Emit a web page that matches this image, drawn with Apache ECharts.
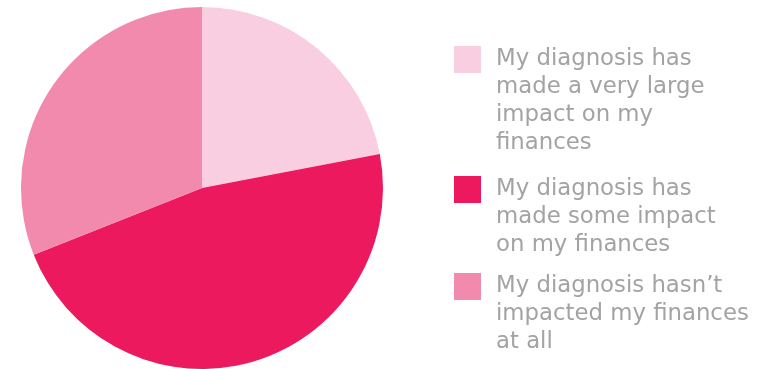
<!DOCTYPE html>
<html><head><meta charset="utf-8">
<script src="https://cdn.jsdelivr.net/npm/echarts@6/dist/echarts.min.js"></script>
<style>html,body{margin:0;padding:0;background:#fff}#c{width:761px;height:369px}</style>
</head><body><div id="c"></div>
<script>
const categories = [
  "My diagnosis has\nmade a very large\nimpact on my\nfinances",
  "My diagnosis has\nmade some impact\non my finances",
  "My diagnosis hasn\u2019t\nimpacted my finances\nat all"
];
const values = [22, 47, 31];
const colors = ["#F8CEE0", "#EC195E", "#F28AAD"];

const LH = 28, IS = 27, BOXW = 47;
const legendTops = [46, 176, 273];
const font = "DejaVu Sans";
const legends = categories.map((name, i) => {
  const n = name.split("\n").length;
  const offset = (2 * n - 1) * LH / 2 - IS / 2;
  return {
    show: true,
    orient: "vertical",
    left: 454,
    top: legendTops[i] - offset,
    padding: 0,
    itemWidth: BOXW,
    itemHeight: IS,
    itemGap: 0,
    icon: "path://M0,0h10v10h-10z",
    symbolKeepAspect: true,
    selectedMode: false,
    formatter: function (nm) { return "\n".repeat(nm.split("\n").length - 1) + nm; },
    data: [{ name: name, itemStyle: { color: colors[i] } }],
    textStyle: { color: "#A3A3A3", fontSize: 22.8, lineHeight: LH, fontFamily: font }
  };
});

const chart = echarts.init(document.getElementById("c"), null, { renderer: "canvas" });
chart.setOption({
  animation: false,
  legend: legends,
  series: [{
    type: "pie",
    center: [202, 188],
    radius: 181,
    startAngle: 90,
    clockwise: true,
    label: { show: false },
    labelLine: { show: false },
    emphasis: { disabled: true },
    data: categories.map((c, i) => ({ name: c, value: values[i], itemStyle: { color: colors[i] } }))
  }]
});
</script></body></html>
